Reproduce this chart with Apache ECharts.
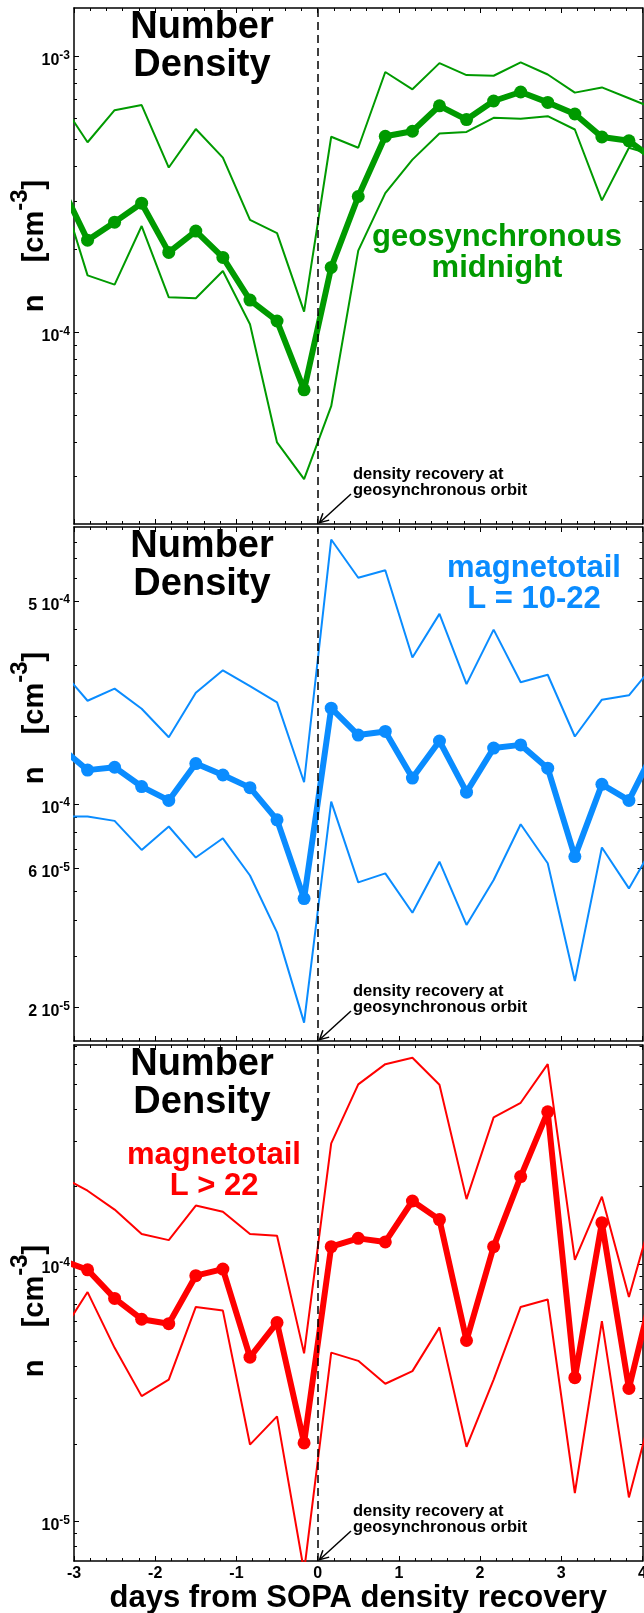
<!DOCTYPE html>
<html>
<head>
<meta charset="utf-8">
<title>Number Density</title>
<script src="https://cdn.jsdelivr.net/npm/echarts@6.0.0/dist/echarts.min.js"></script>
<style>
html, body { margin: 0; padding: 0; background: #fff; }
#main { width: 644px; height: 1613px; }
</style>
</head>
<body>
<div id="main"></div>
<script>
// 8-hour bin centres in days from the SOPA density recovery
// (first and last bins sit just outside the plotted -3..4 window)
var days = [-3.167, -2.833, -2.5, -2.167, -1.833, -1.5, -1.167, -0.833, -0.5, -0.167,
  0.167, 0.5, 0.833, 1.167, 1.5, 1.833, 2.167, 2.5, 2.833, 3.167, 3.5, 3.833, 4.167];
var recoveryDay = 0;

// geosynchronous midnight [cm^-3]
var geoMean = [3.45e-4, 2.16e-4, 2.51e-4, 2.94e-4, 1.95e-4, 2.33e-4, 1.87e-4, 1.31e-4, 1.10e-4, 6.19e-5,
  1.72e-4, 3.11e-4, 5.14e-4, 5.36e-4, 6.63e-4, 5.91e-4, 6.90e-4, 7.44e-4, 6.82e-4, 6.19e-4, 5.11e-4, 4.95e-4, 4.18e-4];
var geoUpper = [6.89e-4, 4.89e-4, 6.39e-4, 6.67e-4, 3.96e-4, 5.46e-4, 4.30e-4, 2.56e-4, 2.29e-4, 1.19e-4,
  5.12e-4, 4.67e-4, 8.79e-4, 7.61e-4, 9.47e-4, 8.57e-4, 8.52e-4, 9.53e-4, 8.61e-4, 7.40e-4, 7.73e-4, 7.06e-4, 6.44e-4];
var geoLower = [3.34e-4, 1.61e-4, 1.49e-4, 2.43e-4, 1.34e-4, 1.33e-4, 1.67e-4, 1.07e-4, 3.99e-5, 2.94e-5,
  5.40e-5, 1.98e-4, 3.20e-4, 4.23e-4, 5.26e-4, 5.33e-4, 6.00e-4, 5.95e-4, 6.08e-4, 5.44e-4, 3.01e-4, 4.67e-4, 4.37e-4];

// magnetotail L = 10-22
var midMean = [1.57e-4, 1.31e-4, 1.34e-4, 1.15e-4, 1.03e-4, 1.38e-4, 1.26e-4, 1.14e-4, 8.83e-5, 4.73e-5,
  2.14e-4, 1.73e-4, 1.78e-4, 1.23e-4, 1.65e-4, 1.10e-4, 1.56e-4, 1.60e-4, 1.33e-4, 6.60e-5, 1.17e-4, 1.03e-4, 1.58e-4];
var midUpper = [2.92e-4, 2.27e-4, 2.50e-4, 2.13e-4, 1.70e-4, 2.42e-4, 2.89e-4, 2.55e-4, 2.24e-4, 1.19e-4,
  8.15e-4, 6.02e-4, 6.39e-4, 3.20e-4, 4.52e-4, 2.59e-4, 3.99e-4, 2.63e-4, 2.79e-4, 1.71e-4, 2.29e-4, 2.37e-4, 3.08e-4];
var midLower = [9.07e-5, 9.07e-5, 8.76e-5, 6.96e-5, 8.38e-5, 6.55e-5, 7.63e-5, 5.68e-5, 3.62e-5, 1.77e-5,
  1.02e-4, 5.38e-5, 5.78e-5, 4.23e-5, 6.34e-5, 3.84e-5, 5.48e-5, 8.53e-5, 6.26e-5, 2.46e-5, 7.09e-5, 5.13e-5, 7.45e-5];

// magnetotail L > 22
var farMean = [1.04e-4, 9.51e-5, 7.36e-5, 6.11e-5, 5.87e-5, 9.02e-5, 9.57e-5, 4.35e-5, 5.93e-5, 2.02e-5,
  1.17e-4, 1.26e-4, 1.22e-4, 1.76e-4, 1.49e-4, 5.05e-5, 1.17e-4, 2.19e-4, 3.91e-4, 3.62e-5, 1.45e-4, 3.29e-5, 8.89e-5];
var farUpper = [2.20e-4, 1.93e-4, 1.63e-4, 1.31e-4, 1.24e-4, 1.69e-4, 1.60e-4, 1.31e-4, 1.29e-4, 4.50e-5,
  2.95e-4, 5.00e-4, 5.99e-4, 6.34e-4, 4.98e-4, 1.79e-4, 3.72e-4, 4.24e-4, 5.99e-4, 1.04e-4, 1.83e-4, 7.46e-5, 1.75e-4];
var farLower = [5.32e-5, 7.79e-5, 4.73e-5, 3.07e-5, 3.56e-5, 6.82e-5, 6.60e-5, 1.99e-5, 2.56e-5, 6.4e-6,
  4.53e-5, 4.21e-5, 3.43e-5, 3.84e-5, 5.68e-5, 1.95e-5, 3.56e-5, 6.82e-5, 7.29e-5, 1.29e-5, 6.01e-5, 1.24e-5, 3.10e-5];

// y ranges and labelled ticks
var geoRange = [2.02e-5, 1.5e-3];
var midRange = [1.53e-5, 9.0e-4];
var farRange = [7.02e-6, 7.11e-4];
var geoTickValues = [1e-3, 1e-4];
var geoTickLabels = ['10^-3', '10^-4'];
var midTickValues = [5e-4, 1e-4, 6e-5, 2e-5];
var midTickLabels = ['5 10^-4', '10^-4', '6 10^-5', '2 10^-5'];
var farTickValues = [1e-4, 1e-5];
var farTickLabels = ['10^-4', '10^-5'];

var GREEN = '#009a00', BLUE = '#0a8cff', RED = '#ff0000';
var FONT = '"Liberation Sans", Arial, Helvetica, sans-serif';

var panels = [
  {mean: geoMean, upper: geoUpper, lower: geoLower, range: geoRange, ticks: geoTickValues, labels: geoTickLabels,
   color: GREEN, name: 'geosynchronous\nmidnight', nameX: 497, nameY: 222, unitY: 246},
  {mean: midMean, upper: midUpper, lower: midLower, range: midRange, ticks: midTickValues, labels: midTickLabels,
   color: BLUE, name: 'magnetotail\nL = 10-22', nameX: 534, nameY: 553, unitY: 718},
  {mean: farMean, upper: farUpper, lower: farLower, range: farRange, ticks: farTickValues, labels: farTickLabels,
   color: RED, name: 'magnetotail\nL > 22', nameX: 214, nameY: 1140, unitY: 1311}
];
var tops = [8, 527, 1045], bottoms = [524, 1041, 1561];

function lg(v) { return Math.log10(v); }

// all 1..9 x 10^n positions inside a range
function decadeTicks(range) {
  var out = [];
  for (var e = -7; e <= -2; e++) {
    for (var m = 1; m <= 9; m++) {
      var v = m * Math.pow(10, e);
      if (v >= range[0] && v <= range[1]) out.push(v);
    }
  }
  return out;
}

function isLabelled(p, v) {
  return p.ticks.some(function (t) { return Math.abs(lg(t) - lg(v)) < 1e-6; });
}

function supLabel(s) {
  var parts = s.split('^');
  return '{b|' + parts[0] + '}{s|' + parts[1] + '}';
}

// value axis in log10 space, only used to place ticks / labels
function tickAxis(g, side, vals, len, p, withLabels) {
  return {
    type: 'value', gridIndex: g, position: side,
    min: lg(p.range[0]), max: lg(p.range[1]),
    axisLine: {show: side === 'right' && len > 4, onZero: false, lineStyle: {color: '#000', width: 1.5}},
    splitLine: {show: false},
    axisTick: {show: true, inside: true, length: len, customValues: vals.map(lg),
      lineStyle: {color: '#000', width: 1}},
    axisLabel: withLabels ? {
      show: true, margin: 4, padding: [8, 0, 0, 0],
      customValues: p.ticks.map(lg),
      formatter: function (v) {
        for (var i = 0; i < p.ticks.length; i++) {
          if (Math.abs(lg(p.ticks[i]) - v) < 1e-6) return supLabel(p.labels[i]);
        }
        return '';
      },
      rich: {
        b: {fontSize: 16, fontWeight: 'bold', fontFamily: FONT, color: '#000', lineHeight: 22},
        s: {fontSize: 12, fontWeight: 'bold', fontFamily: FONT, color: '#000', lineHeight: 12, verticalAlign: 'top'}
      }
    } : {show: false}
  };
}

var grids = [], xAxes = [], yAxes = [], series = [], graphics = [];

panels.forEach(function (p, g) {
  grids.push({left: 74, right: 1.5, top: tops[g], height: bottoms[g] - tops[g],
    containLabel: false, outerBoundsMode: 'none'});

  ['bottom', 'top'].forEach(function (pos) {
    var showLabels = g === 2 && pos === 'bottom';
    xAxes.push({
      type: 'value', gridIndex: g, position: pos, min: -3, max: 4, interval: 1,
      axisLine: {show: true, onZero: false, lineStyle: {color: '#000', width: 1.5}},
      axisTick: {show: true, inside: true, length: 5, lineStyle: {color: '#000', width: 1}},
      minorTick: {show: true, splitNumber: 5, length: 3, lineStyle: {color: '#000', width: 1}},
      splitLine: {show: false}, minorSplitLine: {show: false},
      axisLabel: {show: showLabels, margin: 5, fontSize: 16, fontWeight: 'bold', fontFamily: FONT, color: '#000'},
      name: showLabels ? 'days from SOPA density recovery' : '',
      nameLocation: 'middle', nameGap: 17,
      nameTextStyle: {fontSize: 31, fontWeight: 'bold', fontFamily: FONT, color: '#000',
        verticalAlign: 'top'}
    });
  });

  var all = decadeTicks(p.range);
  var major = all.filter(function (v) { return isLabelled(p, v); }).concat(
    p.ticks.filter(function (v) { return all.every(function (a) { return Math.abs(lg(a) - lg(v)) > 1e-6; }); }));
  var minor = all.filter(function (v) { return !isLabelled(p, v); });

  // data axis (true log scale) + tick overlays
  yAxes.push({
    type: 'log', logBase: 10, gridIndex: g, position: 'left', min: p.range[0], max: p.range[1],
    axisLine: {show: true, onZero: false, lineStyle: {color: '#000', width: 1.5}},
    axisTick: {show: false}, axisLabel: {show: false}, splitLine: {show: false}, minorTick: {show: false}
  });
  yAxes.push(tickAxis(g, 'left', major, 5, p, true));
  yAxes.push(tickAxis(g, 'left', minor, 3, p, false));
  yAxes.push(tickAxis(g, 'right', major, 5, p, false));
  yAxes.push(tickAxis(g, 'right', minor, 3, p, false));

  var xi = g * 2, yi = g * 5;
  function pts(vals) { return days.map(function (d, i) { return [d, vals[i]]; }); }

  series.push({
    type: 'line', xAxisIndex: xi, yAxisIndex: yi, data: pts(p.upper), symbol: 'none', clip: true,
    lineStyle: {color: p.color, width: 2}, silent: true, z: 2,
    markLine: {
      silent: true, symbol: ['none', 'none'], label: {show: false},
      lineStyle: {color: '#000', width: 1.5, type: [8, 5]},
      emphasis: {disabled: true},
      data: [{xAxis: recoveryDay}]
    }
  });
  series.push({
    type: 'line', xAxisIndex: xi, yAxisIndex: yi, data: pts(p.lower), symbol: 'none', clip: true,
    lineStyle: {color: p.color, width: 2}, silent: true, z: 2
  });
  series.push({
    type: 'line', xAxisIndex: xi, yAxisIndex: yi, data: pts(p.mean), clip: true,
    symbol: 'circle', symbolSize: 13, showAllSymbol: true,
    itemStyle: {color: p.color}, lineStyle: {color: p.color, width: 6}, silent: true, z: 3
  });

  // panel texts
  graphics.push({
    type: 'text', x: 202, y: tops[g] + 1, silent: true,
    style: {text: 'Number\nDensity', fill: '#000', fontSize: 38, fontWeight: 'bold', fontFamily: FONT,
      align: 'center', verticalAlign: 'top', lineHeight: 37.5}
  });
  graphics.push({
    type: 'text', x: p.nameX, y: p.nameY, silent: true,
    style: {text: p.name, fill: p.color, fontSize: 31, fontWeight: 'bold', fontFamily: FONT,
      align: 'center', verticalAlign: 'top', lineHeight: 31}
  });
  graphics.push({
    type: 'text', x: 35, y: p.unitY, rotation: Math.PI / 2, silent: true,
    style: {
      text: '{n|n    [cm}{s|-3}{n|]}', align: 'center', verticalAlign: 'middle',
      rich: {
        n: {fontSize: 29, fontWeight: 'bold', fontFamily: FONT, fill: '#000', lineHeight: 54},
        s: {fontSize: 24, fontWeight: 'bold', fontFamily: FONT, fill: '#000', lineHeight: 24, verticalAlign: 'top'}
      }
    }
  });
  var B = bottoms[g];
  graphics.push({
    type: 'text', x: 353, y: B - 57.6, silent: true,
    style: {text: 'density recovery at\ngeosynchronous orbit', fill: '#000', fontSize: 16.5, fontWeight: 'bold',
      fontFamily: FONT, align: 'left', verticalAlign: 'top', lineHeight: 16}
  });
  graphics.push({
    type: 'polyline', silent: true,
    shape: {points: [[351, B - 30], [319.5, B - 1.3]]},
    style: {stroke: '#000', lineWidth: 1.5, fill: null}
  });
  graphics.push({
    type: 'polyline', silent: true,
    shape: {points: [[329.2, B - 3.9], [319.5, B - 1.3], [322.9, B - 10.7]]},
    style: {stroke: '#000', lineWidth: 1.5, fill: null}
  });
});

var chart = echarts.init(document.getElementById('main'));
chart.setOption({
  animation: false,
  backgroundColor: '#fff',
  grid: grids,
  xAxis: xAxes,
  yAxis: yAxes,
  series: series,
  graphic: graphics
});
</script>
</body>
</html>
